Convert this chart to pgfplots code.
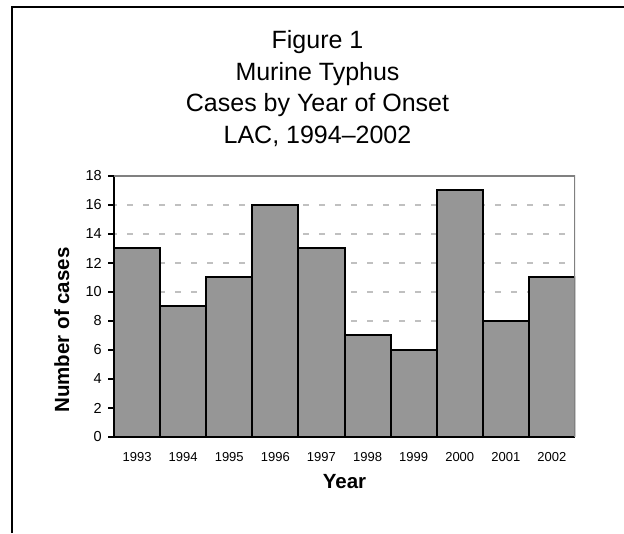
\documentclass[border=0pt]{standalone}
\usepackage{pgfplots}
\pgfplotsset{compat=1.18}
\usepackage{fontspec}
\setmainfont{Liberation Sans}
\definecolor{barfill}{HTML}{969696}
\definecolor{gridc}{HTML}{C0C0C0}
\definecolor{boxc}{HTML}{808080}
\begin{document}
\begin{tikzpicture}
\useasboundingbox (0,0) rectangle (624pt,533pt);
\draw[line width=1.6pt] (12pt,0pt) -- (12pt,526pt) -- (624pt,526pt);
\node[anchor=base] at (317.5pt,484pt) {\fontsize{25}{30}\selectfont Figure 1};
\node[anchor=base] at (317.5pt,452.5pt) {\fontsize{25}{30}\selectfont Murine Typhus};
\node[anchor=base] at (317.5pt,421pt) {\fontsize{25}{30}\selectfont Cases by Year of Onset};
\node[anchor=base] at (317.5pt,389.5pt) {\fontsize{25}{30}\selectfont LAC, 1994--2002};
\begin{axis}[
  at={(114pt,96pt)}, anchor=south west,
  scale only axis, width=461pt, height=261pt,
  xmin=-0.5, xmax=9.5, ymin=0, ymax=18,
  ytick={0,2,...,18},
  xtick={0,...,9},
  xticklabels={1993,1994,1995,1996,1997,1998,1999,2000,2001,2002},
  /pgf/number format/assume math mode=true,
  xticklabel style={font=\fontsize{13}{15}\selectfont, anchor=north, inner sep=0pt, yshift=-9.5pt},
  yticklabel style={font=\fontsize{14.5}{16}\selectfont, anchor=east, inner sep=0pt, xshift=-6pt},
  major x tick style={draw=none},
  major y tick style={black, line width=1.5pt},
  tick align=outside,
  major tick length=6pt,
  axis x line*=bottom, axis y line*=left,
  axis line style={-, black, line width=2.2pt},
  ymajorgrids,
  major grid style={draw=gridc, line width=2pt, dash pattern=on 6pt off 10pt, dash phase=-13pt},
  xlabel={\bfseries Year},
  ylabel={\bfseries Number of cases},
  label style={font=\fontsize{20.5}{24}\selectfont},
  xlabel style={at={(axis description cs:0.5,-0.199)}, anchor=base},
  ylabel style={at={(axis description cs:-0.0976,0.41)}, anchor=base},
  ybar, bar width=46.1pt,
]
\addplot[fill=barfill, draw=black, line width=2pt] coordinates {
(0,13) (1,9) (2,11) (3,16) (4,13) (5,7) (6,6) (7,17) (8,8) (9,11)};
\draw[boxc, line width=1.2pt] (rel axis cs:0,1) -- (rel axis cs:1,1) -- (rel axis cs:1,0);
\end{axis}
\end{tikzpicture}
\end{document}
